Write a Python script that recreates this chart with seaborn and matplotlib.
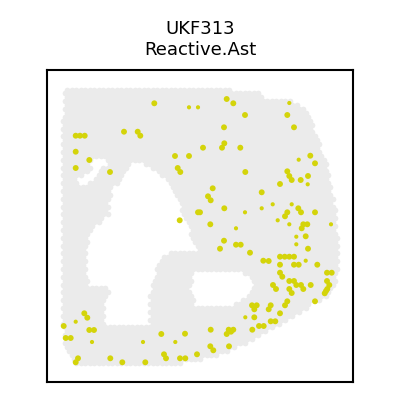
import numpy as np
import pandas as pd
import seaborn as sns
import matplotlib.pyplot as plt
from matplotlib.path import Path

sns.set_theme(style="white")
plt.rcParams['font.family'] = ['DejaVu Sans']

sample = 'UKF313'
cell_type = 'Reactive.Ast'

bg_grey = '#ebebeb'
hit_yellow = '#d4d40a'

# tissue outline and holes (pixel-like coords, y down)
tissue_x = [63, 225, 235, 262, 265, 290, 300, 310, 318, 325, 330, 335, 338, 338, 335,
            325, 310, 295, 283, 265, 245, 225, 205, 190, 150, 73, 65, 62, 62]
tissue_y = [88, 88, 91, 92, 98, 99, 105, 115, 140, 158, 180, 210, 240, 270, 287,
            297, 305, 315, 322, 333, 343, 352, 358, 362, 365, 365, 350, 320, 150]

hole1_x = [132, 140, 155, 168, 178, 185, 192, 196, 172, 160, 155, 150, 150, 105, 105,
           110, 88, 85, 88, 98, 108, 108, 112, 120]
hole1_y = [162, 162, 170, 183, 200, 222, 237, 250, 250, 258, 272, 290, 327, 327, 300,
           287, 285, 265, 240, 223, 215, 200, 190, 178]

hole2_x = [192, 225, 248, 252, 245, 230, 210, 195, 190]
hole2_y = [272, 270, 274, 285, 298, 305, 308, 306, 290]

hole3_x = [90, 105, 108, 98, 92, 84, 76, 78, 88, 92]
hole3_y = [158, 156, 163, 172, 180, 186, 186, 178, 172, 165]

# spots called as Reactive.Ast
hit_x = [154.3, 189, 198, 75.7, 80, 84.7, 124, 137.7, 140.3, 75.7, 89.3, 75.7, 110,
         175, 189, 177.7, 180.3, 198, 179.7, 226.7, 233.3, 245, 289.3, 287.3, 224, 294,
         224.3, 222, 203, 240.3, 298.7, 310.3, 315, 245.3, 287.3, 289.3, 291.7, 300.7,
         308, 307.7, 280, 212.7, 208, 210.7, 261.7, 224.3, 261.7, 272.7, 291.7, 298.3,
         301, 315, 245, 200, 287.3, 285, 277.7, 289.3, 303.3, 307.3, 301.7, 331, 210.3,
         236, 296.3, 305.7, 224, 236, 240.7, 296.3, 308, 220, 250, 280, 284.7, 289.3,
         294, 263.3, 268.7, 305.7, 280, 294, 298.7, 317.3, 280, 282.3, 327, 331.7,
         289.3, 294, 296.3, 301, 303.3, 310.7, 327, 329.3, 327.3, 326, 324.7, 273, 276,
         289.3, 291.7, 315, 287.3, 285, 252, 256.7, 254.3, 270.7, 268.7, 280, 245.3,
         254.3, 275.3, 270.7, 259, 263.7, 252.3, 210.7, 228.7, 233.3, 231, 226.7, 210.3,
         213.3, 229, 84.3, 87.3, 75.7, 63.7, 89.3, 94, 65.7, 70.7, 92, 161.3, 185, 143,
         175.3, 164, 166, 180, 185.3, 197, 78, 75.7, 110.3, 122.3, 145.3]
hit_y = [103.3, 107.3, 107.3, 135.7, 135.7, 135.7, 131.7, 131.7, 135.7, 151.7, 160, 168,
         172, 156, 156, 168, 172, 212.3, 220.3, 99, 103.3, 115, 103, 115, 127.3, 127.3,
         143.3, 147.7, 147.7, 147.7, 159.7, 155.7, 163.3, 172, 171.3, 176, 180, 180,
         176, 184.3, 184, 188.3, 196.3, 200.3, 192.3, 208.3, 208.3, 204.3, 204.3, 208.3,
         212.3, 212.3, 212.3, 212.3, 212.3, 216.3, 220.3, 224.3, 224.3, 224.3, 228.3,
         224.3, 224.3, 228.3, 236.7, 236.3, 240.7, 244.7, 244.7, 244.3, 248.7, 248.7,
         252.7, 256.7, 256.7, 256.7, 256.7, 260.7, 261, 260.7, 264.7, 264.7, 264.7,
         264.7, 272.7, 276.7, 272.7, 272.7, 281, 281, 285, 285, 289, 285, 281, 285, 289,
         291, 293.3, 285, 289, 289, 293, 301.3, 301.3, 305.3, 305.3, 305.3, 309.3, 305.3,
         309.3, 313.3, 317.3, 317.3, 321.3, 321.3, 326, 326, 329.7, 329.7, 329.7, 329.7,
         331.7, 334, 346.3, 350.3, 346.3, 313.3, 317.7, 321.7, 326, 330, 330, 338, 338,
         342, 334, 333.7, 342, 342, 354.3, 358.3, 358.3, 358.3, 354.3, 358.3, 362.3,
         358.3, 362.3, 362.3]
small_hits = [(189, 107.3), (198, 107.3), (289.3, 103), (298.7, 159.7), (307.7, 184.3),
              (261.7, 208.3), (272.7, 204.3), (291.7, 204.3), (245, 212.3),
              (277.7, 220.3), (289.3, 224.3), (331, 224.3), (236, 228.3),
              (296.3, 236.7), (296.3, 244.3), (305.7, 260.7), (245.3, 317.3),
              (75.7, 321.7), (92, 342), (143, 342), (175.3, 342)]

# visium-like hex spot grid, kept where it falls on tissue
gx, gy = [], []
for i, yy in enumerate(np.arange(89.5, 366, 3.9)):
    off = 0 if i % 2 == 0 else 2.25
    for xx in np.arange(62.5 + off, 340, 4.5):
        gx.append(xx)
        gy.append(yy)
pts = np.column_stack([gx, gy])
inside = Path(np.column_stack([tissue_x, tissue_y])).contains_points(pts)
for hx, hy in [(hole1_x, hole1_y), (hole2_x, hole2_y), (hole3_x, hole3_y)]:
    inside &= ~Path(np.column_stack([hx, hy])).contains_points(pts)
df_bg = pd.DataFrame({'x': pts[inside, 0], 'y': pts[inside, 1]})

df_hit = pd.DataFrame({'x': hit_x, 'y': hit_y})
small_set = set(small_hits)
df_hit['size'] = [9 if (a, b) in small_set else 18 for a, b in zip(hit_x, hit_y)]

fig = plt.figure(figsize=(4, 4), dpi=100)
ax = fig.add_axes([47 / 400, 18 / 400, 306 / 400, 312 / 400])
sns.scatterplot(data=df_bg, x='x', y='y', color=bg_grey, s=17, linewidth=0,
                marker='o', ax=ax, legend=False)
sns.scatterplot(data=df_hit, x='x', y='y', color=hit_yellow, size='size',
                sizes=(9, 18), linewidth=0, ax=ax, legend=False)
ax.set_xlim(47, 353)
ax.set_ylim(382, 70)
ax.set_xticks([])
ax.set_yticks([])
ax.set_xlabel('')
ax.set_ylabel('')
for sp in ax.spines.values():
    sp.set_visible(True)
    sp.set_color('black')
    sp.set_linewidth(1.5)
ax.set_title(f'{sample}\n{cell_type}', fontsize=13, pad=11, color='black')

plt.savefig('out.png', dpi=100)
plt.close()
